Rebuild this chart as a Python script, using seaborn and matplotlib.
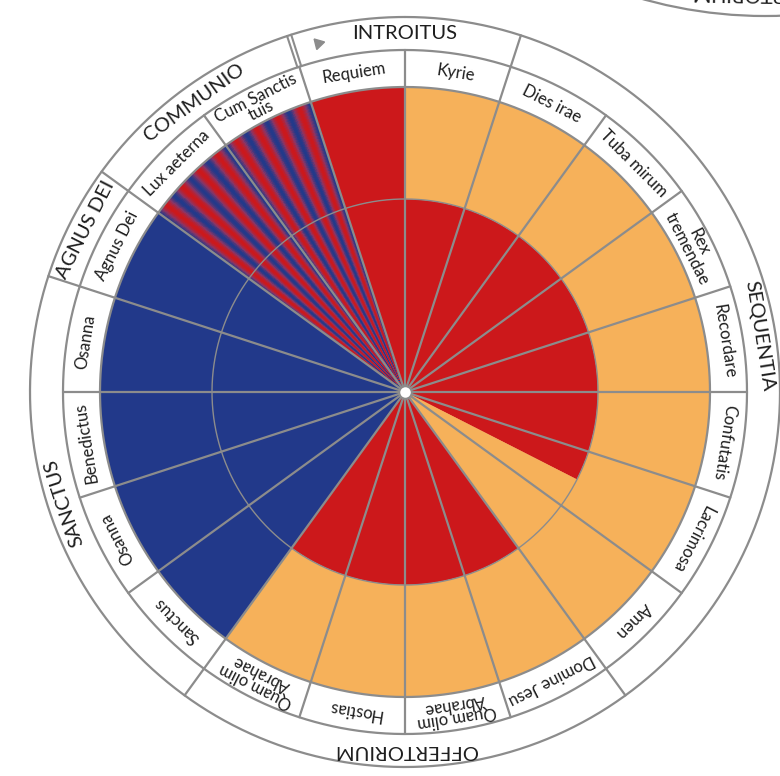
import numpy as np
import matplotlib
matplotlib.use("Agg")
import matplotlib.pyplot as plt
from matplotlib.patches import Circle
import seaborn as sns

# Movements of the Requiem, clockwise from the start marker
movements = ["Requiem", "Kyrie", "Dies irae", "Tuba mirum", "Rex\ntremendae",
             "Recordare", "Confutatis", "Lacrimosa", "Amen", "Domine Jesu",
             "Quam olim\nAbrahae", "Hostias", "Quam olim\nAbrahae", "Sanctus",
             "Osanna", "Benedictus", "Osanna", "Agnus Dei", "Lux aeterna",
             "Cum Sanctis\ntuis"]
# M = Mozart, O = orchestration completed, B = newly written, S = reused material
inner = ["M", "M", "M", "M", "M", "M", "M", "M", "O", "M",
         "M", "M", "M", "B", "B", "B", "B", "B", "S", "S"]
inner_share = [1, 1, 1, 1, 1, 1, 1, 0.5, 1, 1,
               1, 1, 1, 1, 1, 1, 1, 1, 1, 1]
outer = ["M", "O", "O", "O", "O", "O", "O", "O", "O", "O",
         "O", "O", "O", "B", "B", "B", "B", "B", "S", "S"]

sections = ["INTROITUS", "SEQUENTIA", "OFFERTORIUM", "SANCTUS", "AGNUS DEI", "COMMUNIO"]
section_sizes = [2, 7, 4, 4, 1, 2]

colors = {"M": "#cc181b", "O": "#f6b15a", "B": "#22398a"}
gray = "#8c8c8c"
txt = "#1e1e1e"

sns.set_style("white")
plt.rcParams['font.family'] = ['Lato', 'DejaVu Sans']

r_in, r_fill, r_lab, r_out = 193, 305, 342, 375
rmax = 380

fig = plt.figure(figsize=(7.8, 7.76), dpi=100)
ax = fig.add_axes([(405 - rmax) / 780, (776 - 392 - rmax) / 776, 2 * rmax / 780, 2 * rmax / 776],
                  projection='polar')
ax.set_theta_zero_location('N')
ax.set_theta_direction(-1)
ax.set_ylim(0, rmax)
ax.set_axis_off()

n = len(movements)
seg = 360 / n
starts = -seg + seg * np.arange(n)
stripe_cmap = sns.blend_palette([colors["M"], "#8a3566", colors["B"]], as_cmap=True)
stripe_period = 4.5

for i in range(n):
    s = starts[i]
    if inner[i] == "S":
        th = np.linspace(s, s + seg, 361)
        T, R = np.meshgrid(np.deg2rad(th), [0, r_fill])
        mid = (th[:-1] + th[1:]) / 2
        C = np.cos(2 * np.pi * (mid - starts[18]) / stripe_period)[None, :]
        ax.pcolormesh(T, R, C, cmap=stripe_cmap, vmin=-1, vmax=1, shading='flat',
                      edgecolors='none', antialiased=False)
        continue
    w = seg * inner_share[i]
    ax.bar(np.deg2rad(s), r_in, width=np.deg2rad(w), bottom=0, align='edge',
           color=colors[inner[i]], edgecolor=colors[inner[i]], lw=0.3)
    if inner_share[i] < 1:
        ax.bar(np.deg2rad(s + w), r_in, width=np.deg2rad(seg - w), bottom=0, align='edge',
               color=colors[outer[i]], edgecolor=colors[outer[i]], lw=0.3)
    ax.bar(np.deg2rad(s), r_fill - r_in, width=np.deg2rad(seg), bottom=r_in, align='edge',
           color=colors[outer[i]], edgecolor=colors[outer[i]], lw=0.3)

# rings
circ = np.linspace(0, 2 * np.pi, 720)
ax.plot(circ, np.full_like(circ, r_in), color=gray, lw=1.0)
for r in (r_fill, r_lab, r_out):
    ax.plot(circ, np.full_like(circ, r), color=gray, lw=1.6, clip_on=False)

# radial lines between movements
for s in starts:
    ax.plot([np.deg2rad(s)] * 2, [0, r_lab], color=gray, lw=1.6)

# section boundaries
bounds = starts[0] + seg * np.cumsum(section_sizes)
for b in bounds[:-1]:
    ax.plot([np.deg2rad(b)] * 2, [r_lab, r_out], color=gray, lw=1.6)
for d in (-0.33, 0.33):
    ax.plot([np.deg2rad(starts[0] + d)] * 2, [r_lab, r_out], color=gray, lw=1.5)
ax.plot(np.deg2rad(-14), 360, marker=(3, 0, -76), color=gray, ms=9, clip_on=False)

# centre dot
ax.scatter([0], [0], s=80, color="white", edgecolor=gray, lw=1.4, zorder=5)

# movement labels
for i, name in enumerate(movements):
    c = starts[i] + seg / 2
    ax.text(np.deg2rad(c), 323, name, rotation=-c, rotation_mode='anchor',
            ha='center', va='center', fontsize=12, color=txt, linespacing=0.8)

# section labels
edges = np.concatenate([[starts[0]], bounds])
for k, name in enumerate(sections):
    c = (edges[k] + edges[k + 1]) / 2
    ax.text(np.deg2rad(c), 358.5, name, rotation=-c, rotation_mode='anchor',
            ha='center', va='center', fontsize=14.5, color=txt)

# neighbouring chart, cut off at the top right
fig.add_artist(Circle((7.65, 12.10), 4.5, transform=fig.dpi_scale_trans,
                      fill=False, edgecolor=gray, lw=1.6))
fig.text(7.62, 7.83, "OFFERTORIUM", transform=fig.dpi_scale_trans, rotation=179,
         ha='center', va='center', fontsize=14.5, color=txt)

fig.savefig("out.png", dpi=100, facecolor="white")
